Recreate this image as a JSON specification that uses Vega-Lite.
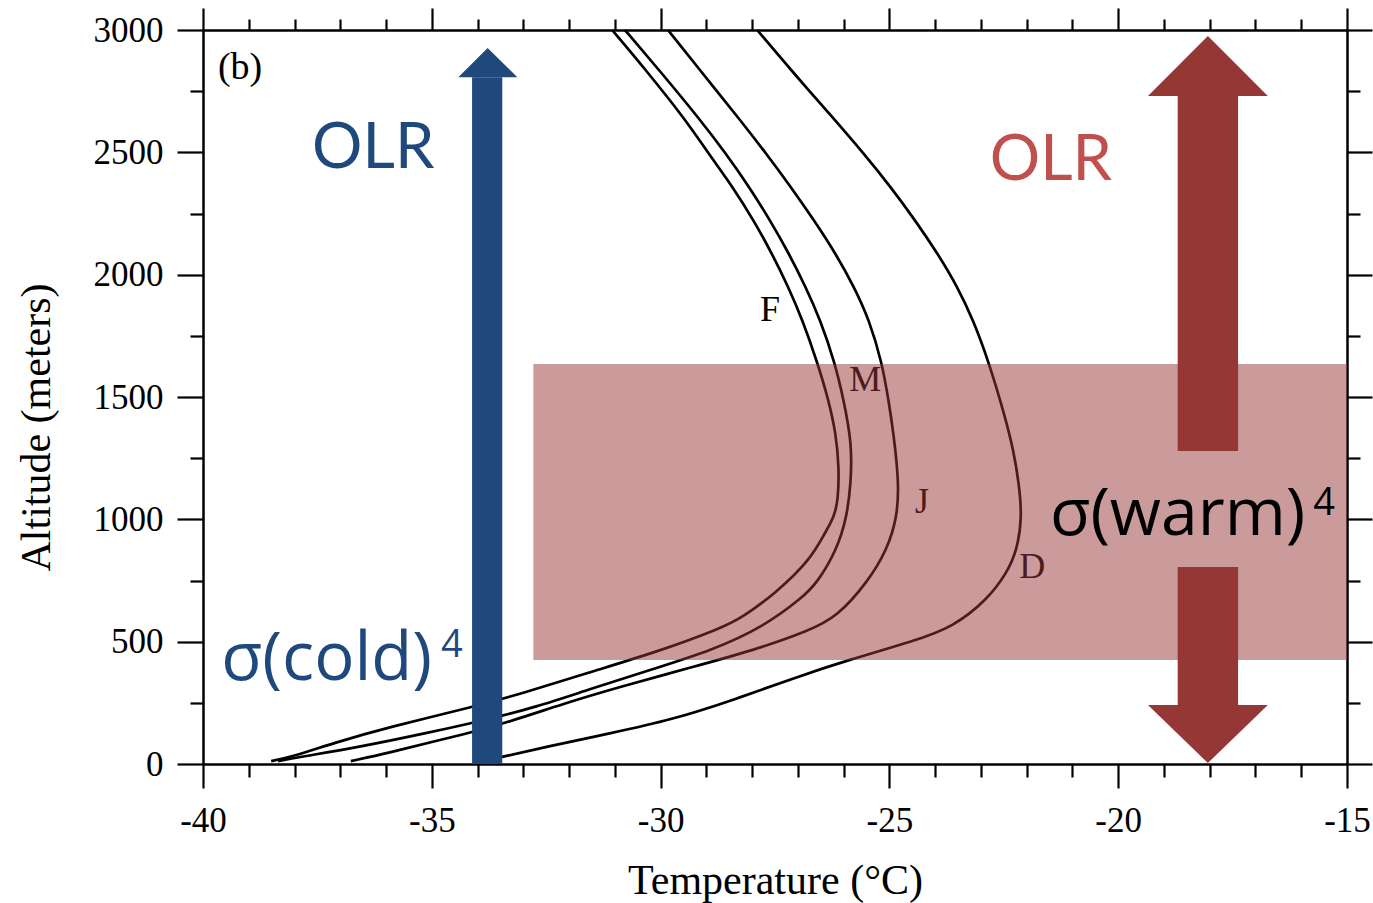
{
  "$schema": "https://vega.github.io/schema/vega-lite/v6.json",
  "width": 1144,
  "height": 734,
  "autosize": "none",
  "padding": {"left": 203, "top": 30, "right": 26, "bottom": 139},
  "background": "white",
  "config": {
    "view": {"stroke": null},
    "axis": {
      "grid": false,
      "domainColor": "black",
      "domainWidth": 2.5,
      "tickColor": "black",
      "tickWidth": 2.2,
      "labelFont": "Liberation Serif",
      "labelFontSize": 35,
      "labelColor": "black",
      "labelFlush": false,
      "titleFont": "Liberation Serif",
      "titleFontSize": 42,
      "titleFontWeight": "normal",
      "titleColor": "black"
    }
  },
  "datasets": {
    "profiles": [
      {"month": "F", "temp": -31.06, "alt": 3000}, {"month": "F", "temp": -30.32, "alt": 2836}, {"month": "F", "temp": -29.45, "alt": 2632}, {"month": "F", "temp": -28.96, "alt": 2497}, {"month": "F", "temp": -28.42, "alt": 2358}, {"month": "F", "temp": -27.97, "alt": 2223}, {"month": "F", "temp": -27.57, "alt": 2088}, {"month": "F", "temp": -27.21, "alt": 1950}, {"month": "F", "temp": -26.9, "alt": 1815}, {"month": "F", "temp": -26.57, "alt": 1639}, {"month": "F", "temp": -26.33, "alt": 1488}, {"month": "F", "temp": -26.17, "alt": 1353}, {"month": "F", "temp": -26.1, "alt": 1214}, {"month": "F", "temp": -26.12, "alt": 1079}, {"month": "F", "temp": -26.21, "alt": 1009}, {"month": "F", "temp": -26.41, "alt": 944}, {"month": "F", "temp": -26.73, "alt": 834}, {"month": "F", "temp": -27.48, "alt": 699}, {"month": "F", "temp": -28.2, "alt": 601}, {"month": "F", "temp": -28.67, "alt": 555}, {"month": "F", "temp": -30.14, "alt": 454}, {"month": "F", "temp": -31.61, "alt": 372}, {"month": "F", "temp": -32.99, "alt": 290}, {"month": "F", "temp": -34.1, "alt": 233}, {"month": "F", "temp": -35.94, "alt": 151}, {"month": "F", "temp": -37.14, "alt": 86}, {"month": "F", "temp": -38.06, "alt": 29}, {"month": "F", "temp": -38.51, "alt": 12},
      {"month": "M", "temp": -30.78, "alt": 3000}, {"month": "M", "temp": -30.03, "alt": 2836}, {"month": "M", "temp": -29.13, "alt": 2632}, {"month": "M", "temp": -28.58, "alt": 2497}, {"month": "M", "temp": -28.06, "alt": 2358}, {"month": "M", "temp": -27.61, "alt": 2223}, {"month": "M", "temp": -27.2, "alt": 2088}, {"month": "M", "temp": -26.83, "alt": 1950}, {"month": "M", "temp": -26.51, "alt": 1815}, {"month": "M", "temp": -26.19, "alt": 1639}, {"month": "M", "temp": -26.0, "alt": 1488}, {"month": "M", "temp": -25.82, "alt": 1312}, {"month": "M", "temp": -25.84, "alt": 1148}, {"month": "M", "temp": -25.93, "alt": 1009}, {"month": "M", "temp": -26.15, "alt": 875}, {"month": "M", "temp": -26.58, "alt": 740}, {"month": "M", "temp": -26.9, "alt": 680}, {"month": "M", "temp": -27.76, "alt": 560}, {"month": "M", "temp": -28.85, "alt": 466}, {"month": "M", "temp": -30.23, "alt": 384}, {"month": "M", "temp": -31.61, "alt": 302}, {"month": "M", "temp": -32.72, "alt": 233}, {"month": "M", "temp": -33.82, "alt": 180}, {"month": "M", "temp": -35.1, "alt": 127}, {"month": "M", "temp": -36.59, "alt": 69}, {"month": "M", "temp": -37.88, "alt": 29}, {"month": "M", "temp": -38.36, "alt": 12},
      {"month": "J", "temp": -29.84, "alt": 3000}, {"month": "J", "temp": -29.14, "alt": 2836}, {"month": "J", "temp": -28.26, "alt": 2632}, {"month": "J", "temp": -27.7, "alt": 2497}, {"month": "J", "temp": -27.15, "alt": 2358}, {"month": "J", "temp": -26.65, "alt": 2223}, {"month": "J", "temp": -26.18, "alt": 2088}, {"month": "J", "temp": -25.77, "alt": 1950}, {"month": "J", "temp": -25.44, "alt": 1815}, {"month": "J", "temp": -25.16, "alt": 1639}, {"month": "J", "temp": -25.02, "alt": 1488}, {"month": "J", "temp": -24.91, "alt": 1353}, {"month": "J", "temp": -24.79, "alt": 1148}, {"month": "J", "temp": -24.83, "alt": 1009}, {"month": "J", "temp": -25.05, "alt": 875}, {"month": "J", "temp": -25.49, "alt": 740}, {"month": "J", "temp": -26.15, "alt": 601}, {"month": "J", "temp": -26.75, "alt": 545}, {"month": "J", "temp": -27.94, "alt": 466}, {"month": "J", "temp": -29.31, "alt": 396}, {"month": "J", "temp": -30.89, "alt": 315}, {"month": "J", "temp": -32.07, "alt": 250}, {"month": "J", "temp": -33.64, "alt": 151}, {"month": "J", "temp": -34.84, "alt": 98}, {"month": "J", "temp": -35.94, "alt": 45}, {"month": "J", "temp": -36.77, "alt": 12},
      {"month": "D", "temp": -27.89, "alt": 3000}, {"month": "D", "temp": -27.15, "alt": 2836}, {"month": "D", "temp": -26.19, "alt": 2632}, {"month": "D", "temp": -25.57, "alt": 2497}, {"month": "D", "temp": -24.97, "alt": 2358}, {"month": "D", "temp": -24.44, "alt": 2223}, {"month": "D", "temp": -23.95, "alt": 2088}, {"month": "D", "temp": -23.51, "alt": 1950}, {"month": "D", "temp": -23.17, "alt": 1815}, {"month": "D", "temp": -22.82, "alt": 1639}, {"month": "D", "temp": -22.47, "alt": 1418}, {"month": "D", "temp": -22.29, "alt": 1283}, {"month": "D", "temp": -22.17, "alt": 1148}, {"month": "D", "temp": -22.1, "alt": 1009}, {"month": "D", "temp": -22.21, "alt": 875}, {"month": "D", "temp": -22.43, "alt": 781}, {"month": "D", "temp": -22.87, "alt": 670}, {"month": "D", "temp": -23.61, "alt": 560}, {"month": "D", "temp": -24.45, "alt": 503}, {"month": "D", "temp": -25.9, "alt": 425}, {"month": "D", "temp": -27.02, "alt": 356}, {"month": "D", "temp": -28.4, "alt": 262}, {"month": "D", "temp": -29.77, "alt": 180}, {"month": "D", "temp": -31.06, "alt": 127}, {"month": "D", "temp": -32.53, "alt": 69}, {"month": "D", "temp": -33.47, "alt": 29}, {"month": "D", "temp": -33.95, "alt": 8}
    ]
  },
  "layer": [
    {
      "data": {"name": "profiles"},
      "mark": {"type": "line", "stroke": "black", "strokeWidth": 2.7, "interpolate": "basis"},
      "encoding": {
        "x": {
          "field": "temp", "type": "quantitative",
          "scale": {"domain": [-40, -15], "nice": false, "zero": false},
          "axis": {
            "orient": "bottom",
            "values": [-40, -39, -38, -37, -36, -35, -34, -33, -32, -31, -30, -29, -28, -27, -26, -25, -24, -23, -22, -21, -20, -19, -18, -17, -16, -15],
            "tickSize": {"condition": {"test": "datum.value % 5 === 0", "value": 24}, "value": 13},
            "labelExpr": "datum.value % 5 === 0 ? (datum.value < 0 ? '-' : '') + format(abs(datum.value), 'd') : ''",
            "labelPadding": 15,
            "title": "Temperature (°C)",
            "titleX": 572,
            "titleY": 129,
            "titleBaseline": "alphabetic"
          }
        },
        "y": {
          "field": "alt", "type": "quantitative",
          "scale": {"domain": [0, 3000], "nice": false, "zero": false},
          "axis": {
            "orient": "left",
            "values": [0, 250, 500, 750, 1000, 1250, 1500, 1750, 2000, 2250, 2500, 2750, 3000],
            "tickSize": {"condition": {"test": "datum.value % 500 === 0", "value": 26}, "value": 13},
            "labelExpr": "datum.value % 500 === 0 ? format(datum.value, 'd') : ''",
            "labelPadding": 14,
            "title": "Altitude (meters)",
            "titleX": -154,
            "titleY": 397,
            "titleAngle": -90,
            "titleBaseline": "alphabetic"
          }
        },
        "detail": {"field": "month"},
        "order": {"field": "alt", "type": "quantitative"}
      }
    },
    {
      "data": {"values": [
        {"label": "F", "temp": -27.61, "alt": 1855},
        {"label": "M", "temp": -25.53, "alt": 1569},
        {"label": "J", "temp": -24.29, "alt": 1071},
        {"label": "D", "temp": -21.88, "alt": 805}
      ]},
      "mark": {"type": "text", "font": "Liberation Serif", "fontSize": 36, "color": "black", "align": "center", "baseline": "middle"},
      "encoding": {
        "x": {"field": "temp", "type": "quantitative", "scale": {"domain": [-40, -15]}, "axis": null},
        "y": {"field": "alt", "type": "quantitative", "scale": {"domain": [0, 3000]}, "axis": null},
        "text": {"field": "label"}
      }
    },
    {
      "data": {"values": [{"label": "(b)", "temp": -39.19, "alt": 2845}]},
      "mark": {"type": "text", "font": "Liberation Serif", "fontSize": 38, "color": "black", "align": "center", "baseline": "middle"},
      "encoding": {
        "x": {"field": "temp", "type": "quantitative", "scale": {"domain": [-40, -15]}, "axis": null},
        "y": {"field": "alt", "type": "quantitative", "scale": {"domain": [0, 3000]}, "axis": null},
        "text": {"field": "label"}
      }
    },
    {
      "data": {"values": [{"t1": -32.78, "t2": -15, "a1": 425, "a2": 1635}]},
      "mark": {"type": "rect", "color": "#953735", "opacity": 0.5},
      "encoding": {
        "x": {
          "field": "t1", "type": "quantitative",
          "scale": {"domain": [-40, -15], "nice": false, "zero": false},
          "axis": {
            "orient": "top",
            "values": [-40, -39, -38, -37, -36, -35, -34, -33, -32, -31, -30, -29, -28, -27, -26, -25, -24, -23, -22, -21, -20, -19, -18, -17, -16, -15],
            "tickSize": {"condition": {"test": "datum.value % 5 === 0", "value": 22}, "value": 11},
            "labels": false,
            "title": null
          }
        },
        "x2": {"field": "t2"},
        "y": {
          "field": "a1", "type": "quantitative",
          "scale": {"domain": [0, 3000], "nice": false, "zero": false},
          "axis": {
            "orient": "right",
            "values": [0, 250, 500, 750, 1000, 1250, 1500, 1750, 2000, 2250, 2500, 2750, 3000],
            "tickSize": {"condition": {"test": "datum.value % 500 === 0", "value": 25}, "value": 13},
            "labels": false,
            "title": null
          }
        },
        "y2": {"field": "a2"}
      }
    },
    {
      "data": {"values": [{"t1": -34.12, "t2": -33.46, "a1": 0, "a2": 2807}]},
      "mark": {"type": "rect", "color": "#1F497D"},
      "encoding": {
        "x": {"field": "t1", "type": "quantitative", "scale": {"domain": [-40, -15]}, "axis": null},
        "x2": {"field": "t2"},
        "y": {"field": "a1", "type": "quantitative", "scale": {"domain": [0, 3000]}, "axis": null},
        "y2": {"field": "a2"}
      }
    },
    {
      "data": {"values": [
        {"t": -34.42, "a": 2807, "base": 2807},
        {"t": -33.78, "a": 2926, "base": 2807},
        {"t": -33.13, "a": 2807, "base": 2807}
      ]},
      "mark": {"type": "area", "color": "#1F497D", "opacity": 1, "interpolate": "linear"},
      "encoding": {
        "x": {"field": "t", "type": "quantitative", "scale": {"domain": [-40, -15]}, "axis": null},
        "y": {"field": "a", "type": "quantitative", "scale": {"domain": [0, 3000]}, "axis": null, "stack": null},
        "y2": {"field": "base"}
      }
    },
    {
      "data": {"values": [
        {"part": "upper", "t1": -18.7, "t2": -17.38, "a1": 1279, "a2": 2730},
        {"part": "lower", "t1": -18.7, "t2": -17.38, "a1": 241, "a2": 805}
      ]},
      "mark": {"type": "rect", "color": "#953735"},
      "encoding": {
        "x": {"field": "t1", "type": "quantitative", "scale": {"domain": [-40, -15]}, "axis": null},
        "x2": {"field": "t2"},
        "y": {"field": "a1", "type": "quantitative", "scale": {"domain": [0, 3000]}, "axis": null},
        "y2": {"field": "a2"}
      }
    },
    {
      "data": {"values": [
        {"head": "up", "t": -19.35, "a": 2730, "base": 2730},
        {"head": "up", "t": -18.04, "a": 2975, "base": 2730},
        {"head": "up", "t": -16.73, "a": 2730, "base": 2730},
        {"head": "down", "t": -19.35, "a": 241, "base": 241},
        {"head": "down", "t": -18.04, "a": 4, "base": 241},
        {"head": "down", "t": -16.73, "a": 241, "base": 241}
      ]},
      "mark": {"type": "area", "color": "#953735", "opacity": 1, "interpolate": "linear"},
      "encoding": {
        "x": {"field": "t", "type": "quantitative", "scale": {"domain": [-40, -15]}, "axis": null},
        "y": {"field": "a", "type": "quantitative", "scale": {"domain": [0, 3000]}, "axis": null, "stack": null},
        "y2": {"field": "base"},
        "detail": {"field": "head"}
      }
    },
    {
      "data": {"values": [{"label": "OLR", "temp": -36.28, "alt": 2436}]},
      "mark": {"type": "text", "font": "Lato", "fontSize": 63, "color": "#1F497D", "align": "center", "baseline": "alphabetic"},
      "encoding": {
        "x": {"field": "temp", "type": "quantitative", "scale": {"domain": [-40, -15]}, "axis": null},
        "y": {"field": "alt", "type": "quantitative", "scale": {"domain": [0, 3000]}, "axis": null},
        "text": {"field": "label"}
      }
    },
    {
      "data": {"values": [{"label": "OLR", "temp": -21.47, "alt": 2387}]},
      "mark": {"type": "text", "font": "Lato", "fontSize": 63, "color": "#C0504D", "align": "center", "baseline": "alphabetic"},
      "encoding": {
        "x": {"field": "temp", "type": "quantitative", "scale": {"domain": [-40, -15]}, "axis": null},
        "y": {"field": "alt", "type": "quantitative", "scale": {"domain": [0, 3000]}, "axis": null},
        "text": {"field": "label"}
      }
    },
    {
      "data": {"values": [{"label": "σ(cold)", "temp": -39.6, "alt": 343}]},
      "mark": {"type": "text", "font": "Open Sans", "fontSize": 67, "color": "#1F497D", "align": "left", "baseline": "alphabetic"},
      "encoding": {
        "x": {"field": "temp", "type": "quantitative", "scale": {"domain": [-40, -15]}, "axis": null},
        "y": {"field": "alt", "type": "quantitative", "scale": {"domain": [0, 3000]}, "axis": null},
        "text": {"field": "label"}
      }
    },
    {
      "data": {"values": [{"label": "4", "temp": -34.8, "alt": 437}]},
      "mark": {"type": "text", "font": "Open Sans", "fontSize": 38, "color": "#1F497D", "align": "left", "baseline": "alphabetic"},
      "encoding": {
        "x": {"field": "temp", "type": "quantitative", "scale": {"domain": [-40, -15]}, "axis": null},
        "y": {"field": "alt", "type": "quantitative", "scale": {"domain": [0, 3000]}, "axis": null},
        "text": {"field": "label"}
      }
    },
    {
      "data": {"values": [{"label": "σ(warm)", "temp": -21.49, "alt": 936}]},
      "mark": {"type": "text", "font": "Open Sans", "fontSize": 66, "color": "black", "align": "left", "baseline": "alphabetic"},
      "encoding": {
        "x": {"field": "temp", "type": "quantitative", "scale": {"domain": [-40, -15]}, "axis": null},
        "y": {"field": "alt", "type": "quantitative", "scale": {"domain": [0, 3000]}, "axis": null},
        "text": {"field": "label"}
      }
    },
    {
      "data": {"values": [{"label": "4", "temp": -15.74, "alt": 1018}]},
      "mark": {"type": "text", "font": "Open Sans", "fontSize": 38, "color": "black", "align": "left", "baseline": "alphabetic"},
      "encoding": {
        "x": {"field": "temp", "type": "quantitative", "scale": {"domain": [-40, -15]}, "axis": null},
        "y": {"field": "alt", "type": "quantitative", "scale": {"domain": [0, 3000]}, "axis": null},
        "text": {"field": "label"}
      }
    }
  ],
  "resolve": {"axis": {"x": "independent", "y": "independent"}}
}
